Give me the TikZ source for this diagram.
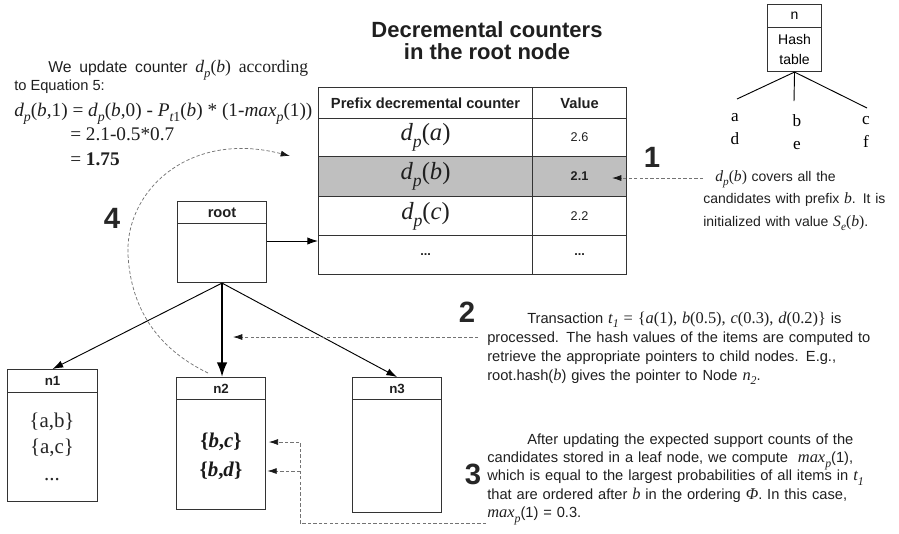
\documentclass[tikz,border=0pt]{standalone}
\usepackage{fontspec}
\setmainfont{Liberation Sans}
\newfontfamily\tms[Scale=1.12]{Liberation Serif}
\usetikzlibrary{arrows.meta}
% lowered, smaller subscript
\newcommand\sbs[1]{\raisebox{-0.62ex}{\scalebox{0.72}{#1}}}
% serif italic / serif upright
\newcommand\sit[1]{{\tms\itshape #1}}
\newcommand\srm[1]{{\tms #1}}
% prefix decremental counter d_p(x)
\newcommand\dpf[1]{\sit{d}\sbs{\sit{p}}\srm{(\sit{#1})}}
% line stretched to a given width
\newcommand\jline[2]{\makebox[#1][s]{#2}}

\begin{document}
\begin{tikzpicture}[x=0.75pt,y=-0.75pt,
  box/.style={draw=black!80,line width=0.8pt,inner sep=0pt,anchor=north west},
  wh/.style n args={2}{minimum width=#1*0.75pt,minimum height=#2*0.75pt},
  body/.style={font=\fontsize{11}{14.25}\selectfont,text=black!88,inner sep=0pt},
  bignum/.style={font=\fontsize{22}{22}\selectfont\bfseries,text=black!85,inner sep=0pt},
  hdr/.style={font=\fontsize{11}{12}\selectfont\bfseries,text=black!88},
  cnt/.style={font=\fontsize{16.5}{18}\selectfont,text=black!88},
  val/.style={font=\fontsize{9.5}{10}\selectfont,text=black!88},
  lbl/.style={font=\fontsize{10}{11}\selectfont\bfseries,text=black!88},
  eqn/.style={font=\tms\fontsize{12.9}{15}\selectfont,text=black!88,anchor=base west,inner sep=0pt},
  ptr/.style={line width=0.7pt,-{Latex[length=8pt,width=5.5pt]}},
  dsh/.style={draw=black!55,line width=0.55pt,dash pattern=on 2.5pt off 1.6pt,
              -{Latex[length=7pt,width=4.5pt,color=black!90]}},
]
\useasboundingbox (0,0) rectangle (899,533);

% ---- title ----
\node[font=\fontsize{16.5}{16.5}\selectfont\bfseries,text=black!88,align=center]
  (title) at (487,41) {Decremental counters\\in the root node};

% ---- counter table ----
\node[box,hdr,wh={214}{31}] (hpre) at (318,87) {Prefix decremental counter};
\node[box,hdr,wh={94}{31}] (hval) at (532,87) {Value};
\node[box,cnt,wh={214}{38}] (ra) at (318,118) {\dpf{a}};
\node[box,val,wh={94}{38}] (va) at (532,118) {2.6};
\node[box,cnt,wh={214}{40},fill=black!25] (rb) at (318,156) {\dpf{b}};
\node[box,val,wh={94}{40},fill=black!25] (vb) at (532,156) {\textbf{2.1}};
\node[box,cnt,wh={214}{39}] (rc) at (318,196) {\dpf{c}};
\node[box,val,wh={94}{39}] (vc) at (532,196) {2.2};
\node[box,val,wh={214}{39}] (rd) at (318,235) {\textbf{...}};
\node[box,val,wh={94}{39}] (vd) at (532,235) {\textbf{...}};

% ---- hash node sketch ----
\node[box,wh={54}{23},font=\fontsize{10.5}{11}\selectfont] (hn) at (767,4) {n};
\node[box,wh={54}{44},font=\fontsize{10.5}{15}\selectfont,align=center] (hbody) at (767,27) {Hash\\table};
\node[font=\tms\fontsize{11.5}{17}\selectfont,align=center,inner sep=0pt] (la) at (735,129) {a\\d};
\node[font=\tms\fontsize{11.5}{17}\selectfont,align=center,inner sep=0pt] (lb) at (797,132) {b\\e};
\node[font=\tms\fontsize{11.5}{17}\selectfont,align=center,inner sep=0pt] (lc) at (866,132) {c\\f};
\coordinate (ea) at (737,99);
\coordinate (eb) at (794,101);
\coordinate (ec) at (867,108);
\draw[line width=0.7pt] (hbody.south) -- (ea);
\draw[line width=0.7pt] (hbody.south) -- (eb);
\draw[line width=0.7pt] (hbody.south) -- (ec);

% ---- step numbers ----
\node[bignum] (one) at (652,157) {1};
\node[bignum] (two) at (467,312) {2};
\node[bignum] (three) at (473,474) {3};
\node[bignum] (four) at (112,218) {4};

% ---- update formula ----
\node[body,font=\fontsize{11.8}{14}\selectfont,anchor=base west] (upd1) at (48,72)
  {\jline{195pt}{We update counter \dpf{b} \srm{according}}};
\node[body,anchor=base west] (upd2) at (14,90) {to Equation 5:};
\node[eqn] (eq1) at (14,116)
  {\sit{d}\sbs{\sit{p}}(\sit{b},1) = \sit{d}\sbs{\sit{p}}(\sit{b},0) - \sit{P}\sbs{\sit{t}1}(\sit{b}) * (1-\sit{max}\sbs{\sit{p}}(1))};
\node[eqn] (eq2) at (70,140) {= 2.1-0.5*0.7};
\node[eqn] (eq3) at (70,165) {= \textbf{1.75}};

% ---- explanations ----
\node[body,font=\fontsize{10.5}{17}\selectfont,anchor=base west,text width=155pt,align=left] (p1) at (703,181)
  {\hspace*{9pt}\dpf{b} covers all the\\
   candidates with prefix \sit{b}. It is\\
   initialized with value \sit{S}\sbs{\sit{e}}\srm{(\sit{b})}.};

\node[body,anchor=base west,text width=300pt,align=left] (p2) at (487,323)
  {\hspace*{30pt}\jline{270pt}{Transaction \sit{t}\sbs{\sit{1}} \srm{=} \srm{\{\sit{a}(1), \sit{b}(0.5), \sit{c}(0.3), \sit{d}(0.2)\}} is}\\
   \jline{300pt}{processed. The hash values of the items are computed to}\\
   \jline{300pt}{retrieve the appropriate pointers to child nodes. E.g.,}\\
   root.hash(\sit{b}) gives the pointer to Node \sit{n}\sbs{\sit{2}}.};

\node[body,font=\fontsize{11}{13.8}\selectfont,anchor=base west,text width=300pt,align=left] (p3) at (487,444)
  {\hspace*{30pt}After updating the expected support counts of the\\
   \jline{300pt}{candidates stored in a leaf node, we compute \ \sit{max}\sbs{\sit{p}}(1),}\\
   \jline{300pt}{which is equal to the largest probabilities of all items in \sit{t}\sbs{\sit{1}}}\\
   \jline{300pt}{that are ordered after \sit{b} in the ordering \sit{Φ}. In this case,}\\
   \sit{max}\sbs{\sit{p}}(1) = 0.3.};

% ---- candidate tree ----
\node[box,lbl,wh={89}{22},font=\fontsize{11}{12}\selectfont\bfseries] (roothd) at (177,201) {root};
\node[box,wh={89}{59}] (rootbd) at (177,223) {};

\node[box,lbl,wh={90}{23}] (n1hd) at (7,369) {n1};
\node[box,wh={90}{109}] (n1bd) at (7,392) {};
\node[box,lbl,wh={89}{22}] (n2hd) at (176,377) {n2};
\node[box,wh={89}{110}] (n2bd) at (176,399) {};
\node[box,lbl,wh={89}{22}] (n3hd) at (352,377) {n3};
\node[box,wh={89}{113}] (n3bd) at (352,399) {};

\node[font=\tms\fontsize{14}{20}\selectfont,text=black!85,anchor=base,text width=60pt,align=center,inner sep=0pt]
  (n1c) at (52,427) {\{a,b\}\\\{a,c\}\\...};
\node[font=\tms\fontsize{14}{20}\selectfont\bfseries,text=black!90,inner sep=0pt] (bc) at (221,442) {\{\textit{b},\textit{c}\}};
\node[font=\tms\fontsize{14}{20}\selectfont\bfseries,text=black!90,inner sep=0pt] (bd) at (221,471) {\{\textit{b},\textit{d}\}};

\draw[ptr] (rootbd.south) -- (n1hd.north);
\draw[line width=1.6pt,-{Latex[length=11pt,width=8pt]}] (rootbd.south) -- (rootbd.south |- n2hd.north);
\draw[ptr] (rootbd.south) -- (n3hd.north);
\draw[ptr] ([yshift=-18*0.75pt]rootbd.north east) -- ([yshift=-18*0.75pt]rootbd.north east -| rd.west);

% ---- dashed pointers ----
\coordinate (t1) at (703,178);
\coordinate (h1) at (612,178);
\draw[dsh] (t1) -- (h1);

\coordinate (t2) at (478,337);
\coordinate (h2) at (233,337);
\draw[dsh] (t2) -- (h2);

\coordinate (t3) at (486,523);
\coordinate (j3) at (300,523);
\draw[dsh] (t3) -- (j3) |- ([xshift=2pt]bc -| n2bd.east);
\draw[dsh] (j3 |- bd) -- ([xshift=1pt]bd -| n2bd.east);

\coordinate (s4) at (208,373);
\coordinate (e4) at (290,156);
\draw[dsh] (s4) .. controls (150,345) and (130.5,300) .. (128,255)
              .. controls (125,190) and (190,130) .. (e4);
\end{tikzpicture}
\end{document}
